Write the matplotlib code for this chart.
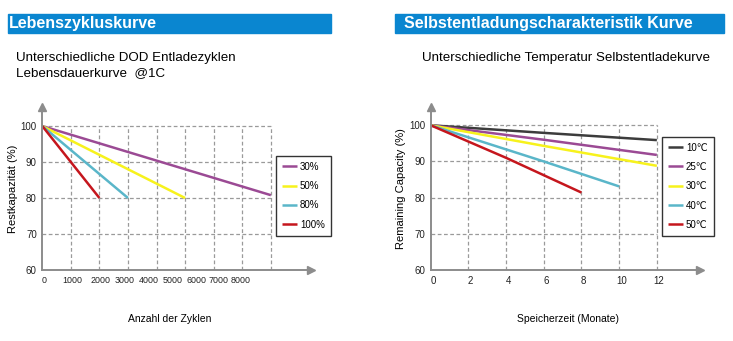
import matplotlib
matplotlib.use("Agg")
import matplotlib.pyplot as plt
from matplotlib.patches import Rectangle

plt.rcParams['font.family'] = ['Liberation Sans', 'DejaVu Sans']

# left chart: cycle life at different DOD
dod_labels = ["30%", "50%", "80%", "100%"]
dod_cycles = [[0, 8000], [0, 5000], [0, 3000], [0, 2000]]
dod_capacity = [[100, 80.8], [100, 80], [100, 80], [100, 80]]
cycle_ticks = [0, 1000, 2000, 3000, 4000, 5000, 6000, 7000, 8000]

# right chart: self discharge at different temperatures
temp_labels = ["10\u2103", "25\u2103", "30\u2103", "40\u2103", "50\u2103"]
months = [[0, 6, 12], [0, 6, 12], [0, 6, 12], [0, 6, 10], [0, 4, 8]]
remaining = [[100, 97.9, 95.9], [100, 96.0, 91.8], [100, 94.3, 88.8],
             [100, 90.0, 83.1], [100, 91.0, 81.4]]
month_ticks = [0, 2, 4, 6, 8, 10, 12]

cap_ticks = [60, 70, 80, 90, 100]

dod_colors = ["#9b4a94", "#f7f21c", "#5ab6c9", "#c5161d"]
temp_colors = ["#3c3c3c", "#9b4a94", "#f7f21c", "#5ab6c9", "#c5161d"]
blue = "#0a86d0"
axis_gray = "#8c8c8c"
grid_gray = "#9a9a9a"

W, H = 733, 341
fig = plt.figure(figsize=(W / 100, H / 100), dpi=100)


def px_axes(x0, x1, ytop, ybot):
    return fig.add_axes([x0 / W, 1 - ybot / H, (x1 - x0) / W, (ybot - ytop) / H])


def style(ax, xmax, ymax, gx, gy):
    for s in ["top", "right"]:
        ax.spines[s].set_visible(False)
    for s in ["left", "bottom"]:
        ax.spines[s].set_color(axis_gray)
        ax.spines[s].set_linewidth(1.4)
    ax.set_xlim(0, xmax)
    ax.set_ylim(60, ymax)
    ax.tick_params(length=0, labelsize=7, colors="#222222", pad=4)
    ax.hlines(gy[1:], 0, gx[-1], colors=grid_gray, linestyles=(0, (3, 2)), lw=0.9)
    ax.vlines(gx[1:], 60, gy[-1], colors=grid_gray, linestyles=(0, (3, 2)), lw=0.9)
    ax.plot([0], [ymax], marker="^", color=axis_gray, ms=6, clip_on=False, zorder=5)
    ax.plot([xmax], [60], marker=">", color=axis_gray, ms=6, clip_on=False, zorder=5)
    ax.set_yticks(gy)
    ax.set_yticklabels([str(v) for v in gy])


def header(x0, x1, tx, text):
    fig.patches.append(Rectangle((x0 / W, 1 - 32.7 / H), (x1 - x0) / W, 18.7 / H,
                                 transform=fig.transFigure, color=blue, zorder=0))
    fig.text(tx / W, 1 - 23.5 / H, text, color="white", fontsize=11.5,
             fontweight="bold", va="center", ha="left")


def legend(ax, top, left):
    leg = ax.legend(loc="upper left", bbox_to_anchor=(left / W, 1 - top / H),
                    bbox_transform=fig.transFigure, fontsize=7, frameon=True,
                    fancybox=False, edgecolor="black", handlelength=1.6,
                    handletextpad=0.3, labelspacing=0.96, borderpad=0.6,
                    borderaxespad=0)
    leg.get_frame().set_linewidth(1.0)
    return leg


# ---- left ----
header(8, 331, 8.5, "Lebenszykluskurve")
fig.text(15.5 / W, 1 - 58 / H, "Unterschiedliche DOD Entladezyklen", fontsize=9.6, va="center")
fig.text(15.5 / W, 1 - 73 / H, "Lebensdauerkurve  @1C", fontsize=9.6, va="center")

ax1 = px_axes(42.3, 311, 107, 270)
style(ax1, 9405, 105.3, cycle_ticks, cap_ticks)
for lab, xs, ys, c in zip(dod_labels, dod_cycles, dod_capacity, dod_colors):
    ax1.plot(xs, ys, color=c, lw=1.8, label=lab, solid_capstyle="butt")
# tick labels sit a bit off the grid in the original artwork
lab_pos = [60, 1040, 2050, 2870, 3730, 4560, 5380, 6180, 6950]
ax1.set_xticks(lab_pos)
ax1.set_xticklabels([str(v) for v in cycle_ticks], fontsize=6.4)
ax1.set_ylabel("Restkapazität (%)", fontsize=8, labelpad=2)
fig.text(170 / W, 1 - 319 / H, "Anzahl der Zyklen", fontsize=7.5, ha="center", va="center")
legend(ax1, 156, 275.7)

# ---- right ----
header(395, 724, 404.5, "Selbstentladungscharakteristik Kurve")
fig.text(421.5 / W, 1 - 58 / H, "Unterschiedliche Temperatur Selbstentladekurve",
         fontsize=9.6, va="center")

ax2 = px_axes(430.7, 700, 107, 270)
style(ax2, 14.29, 105.05, month_ticks, cap_ticks)
for lab, xs, ys, c in zip(temp_labels, months, remaining, temp_colors):
    ax2.plot(xs, ys, color=c, lw=1.8, label=lab, solid_capstyle="butt")
ax2.set_xticks([m + 0.12 for m in month_ticks])
ax2.set_xticklabels([str(v) for v in month_ticks])
ax2.set_ylabel("Remaining Capacity (%)", fontsize=8, labelpad=2)
fig.text(568 / W, 1 - 319 / H, "Speicherzeit (Monate)", fontsize=7.5, ha="center", va="center")
legend(ax2, 136.7, 661.7)

fig.savefig("out.png", dpi=100)
